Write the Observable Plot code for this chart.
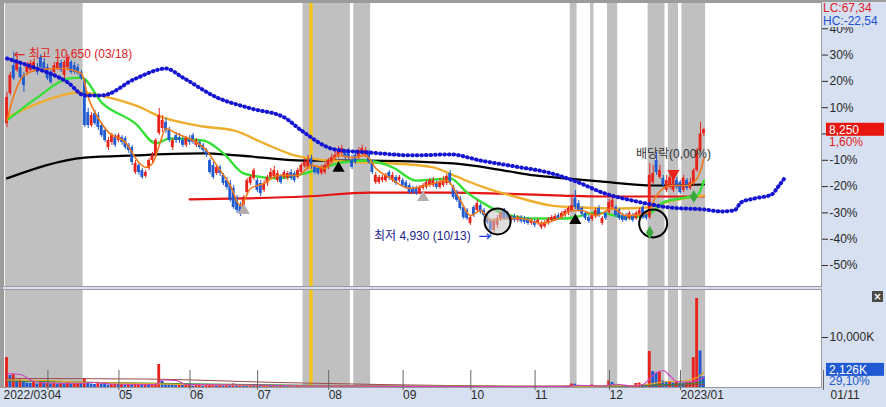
<!DOCTYPE html>
<html lang="ko"><head><meta charset="utf-8">
<script src="https://cdn.jsdelivr.net/npm/d3@7"></script>
<script src="https://cdn.jsdelivr.net/npm/@observablehq/plot@0.6"></script>
<style>
html,body{margin:0;padding:0;background:#d6e0f0;}
#wrap{position:relative;width:886px;height:407px;overflow:hidden;background:#d6e0f0;}
#wrap svg{display:block;}
.bl{position:absolute;background:#9c9c9c;}
#xbtn{position:absolute;left:872px;top:291px;width:11px;height:11px;background:#4a4a4a;color:#fff;font:bold 10px/11px "DejaVu Sans",sans-serif;text-align:center;}
</style></head><body>
<div id="wrap"></div>
<script>
const FONT = '"Liberation Sans","Noto Sans CJK KR",sans-serif';
const RED = "#e8231c", BLUE = "#1f5ad2", PANEL = "#d6e0f0";

// ---- data ----
const prevClose = 8120;
const monthStart = [0,12,33,54,74,95,117,137,156,178,199];
const monthLabel = ["2022/03","04","05","06","07","08","09","10","11","12","2023/01"];
const lastDateLabel = "01/11";
const hiDate = "03/18", loDate = "10/13";
const pctTicks = [40,30,20,10,0,-10,-20,-30,-40,-50];

const open = [8440,9370,10230,10080,10170,9930,10020,10080,10140,10170,10480,10330,
10170,10020,10020,10140,10300,9930,10170,10330,10230,10170,10020,9770,
8780,8380,8750,8690,8380,8230,7700,7860,8010,
7920,8010,7980,7770,7700,6930,7150,6990,6810,7060,7300,7460,8140,
8290,8480,8230,7700,8070,8010,7920,7770,
7980,8070,7770,7860,7770,7610,7300,7150,6900,7090,6840,6680,6590,6440,6130,5910,5760,6310,6590,6750,
6680,6590,6380,6590,6780,6810,6680,6810,6780,6750,6930,6900,6780,6930,7120,7090,7360,7090,7060,6900,6930,
7090,7240,7360,7430,7520,7550,7550,7300,7460,7390,7550,7460,7520,7210,6620,6620,6680,6680,6930,6680,6780,6680,
6680,6620,6530,6440,6440,6310,6440,6470,6530,6530,6620,6470,6530,6590,6900,6470,6310,6130,5850,5760,
5360,5850,5760,5910,5760,5600,5450,5140,5300,5510,5760,5670,5450,5570,5450,5540,5510,5480,5360,
5420,5360,5230,5260,5360,5450,5480,5600,5540,5600,5670,5760,6130,5970,5820,5670,5540,5480,5570,5820,5360,5670,
5700,5850,5850,5760,5600,5600,5510,5600,5510,5600,5850,5700,5540,6620,7300,6780,6750,6380,6470,6380,6680,
6620,6380,6680,6440,6590,6990,7610,8130];
const high = [9400,10020,10650,10480,10300,10020,10330,10390,10450,10300,10570,10450,
10270,10080,10330,10450,10390,10390,10570,10390,10330,10270,10080,9830,
8910,8780,8850,8780,8480,8290,8010,8140,8110,
8140,8070,8040,7830,7770,7300,7210,7060,6990,7360,7550,7980,8910,
8690,8600,8320,7980,8170,8140,8040,8040,
8070,8140,7980,7920,7830,7670,7360,7240,7150,7150,6900,6780,6680,6530,6220,6010,6220,6750,6840,7060,
6750,6680,6680,6840,7060,7120,6990,6870,6990,6960,7020,6960,7060,7210,7360,7460,7460,7150,7120,7150,7210,
7360,7490,7610,7730,7770,7610,7670,7460,7610,7700,7770,7700,7610,7300,6930,6840,6840,6900,6990,6930,6840,6840,
6750,6680,6590,6500,6500,6530,6590,6680,6750,6780,6680,6750,6810,6870,6990,6530,6380,6190,5910,5820,
5600,5910,6070,5970,5820,5670,5510,5510,5600,5730,5820,5730,5600,5640,5600,5600,5570,5540,5510,
5480,5510,5420,5450,5540,5600,5640,5670,5730,5790,5880,6220,6380,6070,5880,5730,5600,5670,5820,5910,5570,5730,
6100,6190,5910,5820,5670,5670,5730,5670,5730,5820,5910,5760,7210,7150,7550,7150,6840,6840,6930,6780,6780,
6680,6840,6750,6750,7060,7670,8480,8300];
const low = [8320,9310,9770,10020,9770,9400,9930,10020,10080,9930,10080,10020,
9770,9650,9930,10080,10020,9830,10080,9960,9960,9930,9770,8320,
8290,8320,8380,8230,8010,7860,7610,7770,7700,
7860,7770,7640,7520,7150,6870,6840,6720,6750,6990,7240,7390,8070,
8170,8140,7860,7610,7830,7830,7700,7700,
7770,7800,7700,7640,7550,7390,6870,6720,6840,6810,6530,6380,6010,5790,5670,5570,5700,6250,6530,6680,
6310,6190,6310,6500,6720,6750,6620,6560,6720,6680,6680,6620,6720,6870,7060,7020,7020,6870,6840,6840,6870,
7020,7180,7300,7360,7460,7330,7330,7020,7180,7330,7460,7390,7180,6870,6560,6560,6620,6620,6680,6620,6530,6620,
6470,6410,6250,6250,6220,6250,6380,6410,6470,6470,6410,6410,6470,6530,6530,6100,6010,5760,5480,5450,
5300,5540,5700,5640,5540,5330,4930,5050,5200,5420,5450,5450,5390,5390,5390,5360,5330,5300,5300,
5230,5300,5170,5200,5300,5390,5420,5450,5480,5540,5600,5700,5790,5700,5570,5450,5360,5420,5510,5540,5300,5450,
5640,5790,5540,5450,5390,5420,5450,5390,5450,5540,5480,5450,5480,6560,6840,6720,6470,6310,6410,6310,6410,
6250,6310,6380,6380,6500,6930,7550,8040];
const close = [9250,9930,9830,10390,9860,9620,10230,10300,10330,10020,10170,10140,
9830,9710,10230,10330,10080,10330,10480,10020,10020,9990,9830,8380,
8380,8690,8440,8320,8070,7920,7920,8070,7770,
8070,7860,7700,7610,7240,7210,6930,6780,6930,7300,7460,7920,8690,
8540,8230,7920,7920,7920,7920,7770,7980,
7860,7860,7920,7700,7610,7460,6930,6780,7090,6900,6590,6470,6070,5850,5760,5670,6160,6680,6780,6990,
6380,6280,6590,6780,6930,6990,6900,6620,6930,6900,6750,6680,6990,7150,7240,7300,7090,6930,6900,7090,7150,
7300,7390,7460,7610,7670,7390,7390,7090,7240,7610,7670,7610,7240,6930,6840,6780,6780,6840,6750,6840,6590,6780,
6530,6470,6310,6310,6280,6470,6530,6620,6680,6680,6470,6620,6680,6810,6590,6160,6070,5820,5540,5510,
5540,5600,5970,5700,5600,5390,5140,5450,5510,5670,5510,5510,5540,5450,5540,5420,5390,5360,5450,
5300,5450,5360,5390,5480,5540,5570,5510,5670,5730,5820,5910,5850,5760,5640,5510,5420,5600,5760,5600,5510,5510,
6010,6070,5600,5510,5450,5450,5670,5450,5670,5760,5540,5510,6840,6900,6930,6990,6530,6680,6780,6750,6470,
6310,6750,6440,6620,6990,7610,8120,8250];
// volume in thousand shares
const volume = [6000,2400,2600,1400,1500,1200,900,800,1000,700,900,800,
800,700,900,600,800,700,900,600,700,800,600,1800,
1000,700,600,800,700,600,500,600,700,
600,700,500,600,500,600,700,500,600,500,600,700,4600,
1200,800,700,600,500,500,400,400,
400,300,400,500,300,400,500,600,400,500,400,600,500,700,500,600,400,300,400,300,
300,250,300,350,250,300,250,300,280,250,300,260,300,350,300,400,350,300,280,300,250,
300,280,300,400,350,300,250,300,280,250,300,250,280,300,250,230,250,220,250,230,200,220,
220,200,230,200,210,200,220,200,190,210,200,220,200,230,250,280,260,300,280,250,
280,250,220,200,230,250,300,260,230,220,200,190,200,180,190,200,180,190,200,
190,180,200,190,180,200,190,210,200,250,300,700,650,350,250,220,200,500,300,220,200,180,
1300,1000,400,300,250,220,250,300,800,900,500,400,7200,3200,2800,3000,1300,1000,1100,900,1000,
900,800,1000,1100,6000,17800,7306,2126];

// moving averages: [day index, price]
const maShort = [[0,8540],[2,9300],[5,9930],[10,10110],[16,10140],[22,9990],[24,9250],[27,8600],[30,8170],[35,7860],[39,7240],[41,7090],[43,7210],[45,7770],[47,8290],[50,8140],[55,7920],[59,7610],[62,7150],[66,6530],[69,5910],[72,6440],[76,6590],[80,6840],[86,6840],[90,7150],[94,7060],[98,7460],[102,7390],[106,7460],[109,7060],[113,6780],[119,6440],[124,6530],[130,6680],[134,6070],[137,5600],[140,5760],[143,5450],[147,5510],[152,5510],[158,5360],[163,5510],[167,5760],[170,5760],[174,5600],[179,5820],[183,5600],[189,5670],[192,6220],[196,6530],[201,6530],[204,6750],[205,6990],[206,7360]];
const ma20 = [[0,8540],[9,9250],[18,9830],[22,9860],[28,9090],[38,8440],[44,7830],[48,7980],[58,7920],[64,7520],[70,6900],[80,6750],[89,6930],[99,7240],[106,7300],[114,7090],[121,6680],[131,6750],[136,6310],[141,5970],[146,5700],[156,5510],[165,5510],[170,5600],[174,5700],[184,5540],[190,5670],[194,6010],[199,6130],[204,6220],[206,6680]];
const ma60 = [[0,8630],[9,9060],[22,9400],[30,9250],[38,9000],[46,8630],[58,8350],[67,8230],[76,7830],[85,7460],[95,7300],[106,7240],[114,7210],[126,7090],[132,6840],[141,6470],[151,6160],[161,5910],[170,5850],[181,5820],[189,5850],[197,6070],[206,6220]];
const ma120 = [[0,6750],[23,7390],[38,7460],[58,7520],[68,7460],[88,7300],[107,7300],[132,7210],[147,6990],[156,6840],[165,6750],[176,6650],[191,6530],[206,6560]];
const ma240 = [[54,6100],[70,6130],[88,6190],[107,6310],[132,6310],[146,6280],[164,6220],[176,6190],[191,6190],[206,6190]];
const maLead = [[0,10450],[8,10170],[18,9710],[23,9310],[28,9310],[38,9830],[47,10140],[52,9860],[62,9250],[72,8910],[82,8630],[87,8230],[97,7640],[107,7550],[120,7460],[131,7490],[140,7300],[150,7120],[160,6930],[169,6620],[176,6310],[186,6040],[196,5850],[206,5790],[211,5730],[215,5760],[217,6010],[221,6130],[226,6250],[228,6500],[230,6780]];
// volume averages (thousand shares)
const vma5 = [[0,2800],[4,2600],[8,1200],[14,850],[22,800],[25,1000],[32,650],[44,600],[46,1500],[50,1400],[53,600],[70,500],[90,300],[120,210],[150,200],[165,220],[169,450],[176,300],[180,650],[185,300],[188,600],[190,1800],[192,3000],[194,3400],[196,2300],[198,1200],[202,1100],[206,2000]];
const vma20 = [[0,1500],[12,1400],[20,1100],[40,800],[60,500],[80,350],[100,280],[140,220],[170,250],[185,400],[190,700],[195,1200],[200,1300],[204,2000],[206,3000]];
const vma60 = [[0,1300],[30,1000],[60,700],[90,450],[120,300],[150,220],[180,280],[190,500],[200,700],[206,1100]];
const vma120 = [[0,1800],[40,1700],[80,1000],[110,600],[130,400],[160,250],[190,350],[206,600]];

// highlighted day ranges and signals
const shadeStart = [0,88,103,167,173,178,190,196,200];
const shadeEnd   = [22,101,107,168,173,180,194,198,206];
const yellowDay = 90;
const buyIdx = [98,168], buyPrice = [7060,5450];
const grayIdx = [70,123], grayPrice = [5760,6160];
const greenIdx = [190,203], greenPrice = [5080,6190];
const exDivIdx = 197, exDivText = "배당락(0,00%)";
const circleIdx = [145,191], circlePrice = [5420,5360];

// ---- build ----
const N = close.length;
const idx = d3.range(N);
const xDomain = [-1.035, 240.76];
const yDomain = [3412, 12179];
const fmt = d3.format(",");
const pc = v => v.toFixed(2).replace(".", ",");
const shades = shadeStart.map((s,k) => ({s, e: shadeEnd[k]}));
const up = idx.filter(i => close[i] >= open[i]);
const dn = idx.filter(i => close[i] < open[i]);
const hiIdx = d3.maxIndex(high), loIdx = d3.minIndex(low);
const last = N - 1;
const BW = 0.42;
const x1s = d => Math.max(xDomain[0], d.s - 0.5);

const lineOpts = (stroke, w) => ({x: d => d[0], y: d => d[1], stroke, strokeWidth: w, curve: "monotone-x"});

const main = Plot.plot({
  width: 886, height: 288,
  marginLeft: 3, marginRight: 65, marginTop: 2, marginBottom: 2,
  x: {domain: xDomain, axis: null},
  y: {domain: yDomain, axis: null},
  style: {background: "transparent", fontFamily: FONT, fontSize: "12px", color: "#2a2a2a"},
  marks: [
    Plot.frame({fill: "white"}),
    Plot.rect(shades, {x1: x1s, x2: d => d.e + 0.5, fill: "#c0c0c0"}),
    Plot.rect([yellowDay], {x1: d => d - 0.5, x2: d => d + 0.5, fill: "#f7c51e"}),
    Plot.line(ma120, lineOpts("#000", 2.2)),
    Plot.line(ma240, lineOpts("#e41414", 2.2)),
    Plot.line(ma60, lineOpts("#eeae2c", 2.4)),
    Plot.line(ma20, lineOpts("#36e036", 2.4)),
    Plot.ruleX(up, {x: i => i, y1: i => low[i], y2: i => high[i], stroke: RED, strokeWidth: 1}),
    Plot.rect(up, {x1: i => i - BW, x2: i => i + BW, y1: i => open[i], y2: i => (close[i] === open[i] ? close[i] + 20 : close[i]), fill: RED}),
    Plot.ruleX(dn, {x: i => i, y1: i => low[i], y2: i => high[i], stroke: BLUE, strokeWidth: 1}),
    Plot.rect(dn, {x1: i => i - BW, x2: i => i + BW, y1: i => open[i], y2: i => close[i], fill: BLUE}),
    Plot.line(maShort, lineOpts("#f07818", 1.6)),
    Plot.line(maLead, {x: d => d[0], y: d => d[1], stroke: "#1414d2", strokeWidth: 4, strokeDasharray: "0.6,4", strokeLinecap: "round", curve: "monotone-x"}),
    Plot.dot([0], {x: () => circleIdx[0], y: () => circlePrice[0], r: 13, fill: "#c4c4c4", fillOpacity: 0.55, stroke: "#000", strokeWidth: 2}),
    Plot.dot([1], {x: () => circleIdx[1], y: () => circlePrice[1], r: 14, fill: "none", stroke: "#000", strokeWidth: 2}),
    Plot.dot(buyIdx.map((b,k) => ({i: b, p: buyPrice[k]})), {x: "i", y: "p", symbol: "triangle", r: 4.5, fill: "#000"}),
    Plot.dot(grayIdx.map((b,k) => ({i: b, p: grayPrice[k]})), {x: "i", y: "p", symbol: "triangle", r: 4.5, fill: "#b9aeae"}),
    Plot.dot(greenIdx.map((b,k) => ({i: b, p: greenPrice[k]})), {x: "i", y: "p", symbol: "diamond", r: 4, fill: "#3aa83a"}),
    Plot.dot([exDivIdx], {x: i => i, y: i => high[i], symbol: "triangle", rotate: 180, r: 4.5, fill: RED, dy: -4}),
    Plot.text([exDivIdx], {x: i => i, y: i => high[i], text: () => exDivText, dy: -23, fill: "#333", fontSize: 12}),
    Plot.text([hiIdx], {x: i => i, y: i => high[i], text: () => "←", textAnchor: "start", dx: 0, dy: 2, fill: "#e0201c", fontSize: 14, fontFamily: "DejaVu Sans"}),
    Plot.text([hiIdx], {x: i => i, y: i => high[i], text: i => `최고 ${fmt(high[i])} (${hiDate})`, textAnchor: "start", dx: 15, dy: 2, fill: "#e0201c", fontSize: 12}),
    Plot.text([loIdx], {x: i => i, y: i => low[i], text: i => `최저 ${fmt(low[i])} (${loDate})`, textAnchor: "end", dx: -20, dy: -1, fill: "#22228e", fontSize: 12}),
    Plot.text([loIdx], {x: i => i, y: i => low[i], text: () => "→", textAnchor: "end", dx: 0, dy: -1, fill: "#1a3ce0", fontSize: 15, fontFamily: "DejaVu Sans"}),
    Plot.frame({stroke: "#9a9a9a"}),
    Plot.axisY({anchor: "right", ticks: pctTicks.map(p => prevClose * (1 + p / 100)), tickFormat: d => { const p = Math.round((d / prevClose - 1) * 100); return p === 0 ? "" : p + "%"; }, tickSize: 6, tickPadding: 2, fontSize: 12})
  ]
});

const vol = Plot.plot({
  width: 886, height: 119,
  marginLeft: 3, marginRight: 65, marginTop: 1, marginBottom: 20,
  x: {domain: xDomain, axis: null},
  y: {domain: [0, 19600], axis: null},
  style: {background: "transparent", fontFamily: FONT, fontSize: "12px", color: "#2a2a2a"},
  marks: [
    Plot.frame({fill: "white"}),
    Plot.rect(shades, {x1: x1s, x2: d => d.e + 0.5, fill: "#c0c0c0"}),
    Plot.rect([yellowDay], {x1: d => d - 0.5, x2: d => d + 0.5, fill: "#f7c51e"}),
    Plot.rect(idx.filter(i => i === 0 || volume[i] >= volume[i-1]), {x1: i => i - BW, x2: i => i + BW, y1: 0, y2: i => volume[i], fill: RED}),
    Plot.rect(idx.filter(i => i > 0 && volume[i] < volume[i-1]), {x1: i => i - BW, x2: i => i + BW, y1: 0, y2: i => volume[i], fill: BLUE}),
    Plot.line(vma120, lineOpts("#9a4a4a", 1)),
    Plot.line(vma60, lineOpts("#2e8b2e", 1)),
    Plot.line(vma20, lineOpts("#e8a820", 1.2)),
    Plot.line(vma5, lineOpts("#d040c0", 1.2)),
    Plot.frame({stroke: "#9a9a9a"}),
    Plot.axisY({anchor: "right", ticks: [10000], tickFormat: d => fmt(d) + "K", tickSize: 6, tickPadding: 2, fontSize: 12}),
    Plot.axisX({anchor: "bottom", ticks: monthStart.slice(1).map(s => s - 0.5).concat([xDomain[1]]), tickFormat: d => { const k = monthStart.indexOf(d + 0.5); return k >= 0 ? monthLabel[k] : ""; }, tickSize: 20, tickPadding: 0, textAnchor: "start", dx: 2, dy: -17, fontSize: 12, stroke: "#666"}),
    Plot.text([monthLabel[0]], {frameAnchor: "bottom-left", dx: 0, dy: 11, textAnchor: "start", fontSize: 12, fill: "#2a2a2a"}),
    Plot.text([lastDateLabel], {frameAnchor: "bottom-right", dx: 9, dy: 11, textAnchor: "start", fontSize: 12, fill: "#2a2a2a"})
  ]
});

const wrap = document.getElementById("wrap");
wrap.appendChild(main);
wrap.appendChild(vol);

// price / ratio labels on the right axes, placed with the plots' own scales
const ys = main.scale("y");
const gm = d3.select(main).append("g").attr("font-family", FONT).attr("font-size", 12).attr("text-anchor", "start");
gm.append("rect").attr("x", 822).attr("y", 0).attr("width", 64).attr("height", 27).attr("fill", PANEL);
gm.append("text").attr("x", 823).attr("y", 11.5).attr("fill", "#e0201c")
  .text(`LC:${pc((close[last] / d3.min(low) - 1) * 100)}`);
gm.append("text").attr("x", 823).attr("y", 25).attr("fill", "#1f4fd0")
  .text(`HC:${pc((close[last] / d3.max(high) - 1) * 100)}`);
const yc = ys.apply(close[last]);
gm.append("rect").attr("x", 826).attr("y", yc - 6.5).attr("width", 58).attr("height", 13).attr("fill", "#e8160f");
gm.append("text").attr("x", 829).attr("y", yc + 4.5).attr("fill", "#fff").text(fmt(close[last]));
gm.append("text").attr("x", 829).attr("y", yc + 17).attr("fill", "#e0201c")
  .text(pc((close[last] / prevClose - 1) * 100) + "%");

const vs = vol.scale("y");
const gv = d3.select(vol).append("g").attr("font-family", FONT).attr("font-size", 12).attr("text-anchor", "start");
const yv = vs.apply(volume[last]) - 1;
gv.append("rect").attr("x", 826).attr("y", yv - 12.5).attr("width", 58).attr("height", 13).attr("fill", "#1f5ad2");
gv.append("text").attr("x", 829).attr("y", yv - 1.5).attr("fill", "#fff").text(fmt(volume[last]) + "K");
gv.append("text").attr("x", 829).attr("y", yv + 10).attr("fill", "#1f5ad2")
  .text(pc(volume[last] / volume[last - 1] * 100) + "%");

// window chrome
const b1 = document.createElement("div"); b1.className = "bl"; b1.style.cssText = "left:0;top:0;width:3px;height:388px;"; wrap.appendChild(b1);
const b2 = document.createElement("div"); b2.className = "bl"; b2.style.cssText = "left:0;top:0;width:886px;height:2px;"; wrap.appendChild(b2);
const xb = document.createElement("div"); xb.id = "xbtn"; xb.textContent = "×"; wrap.appendChild(xb);
</script>
</body></html>
